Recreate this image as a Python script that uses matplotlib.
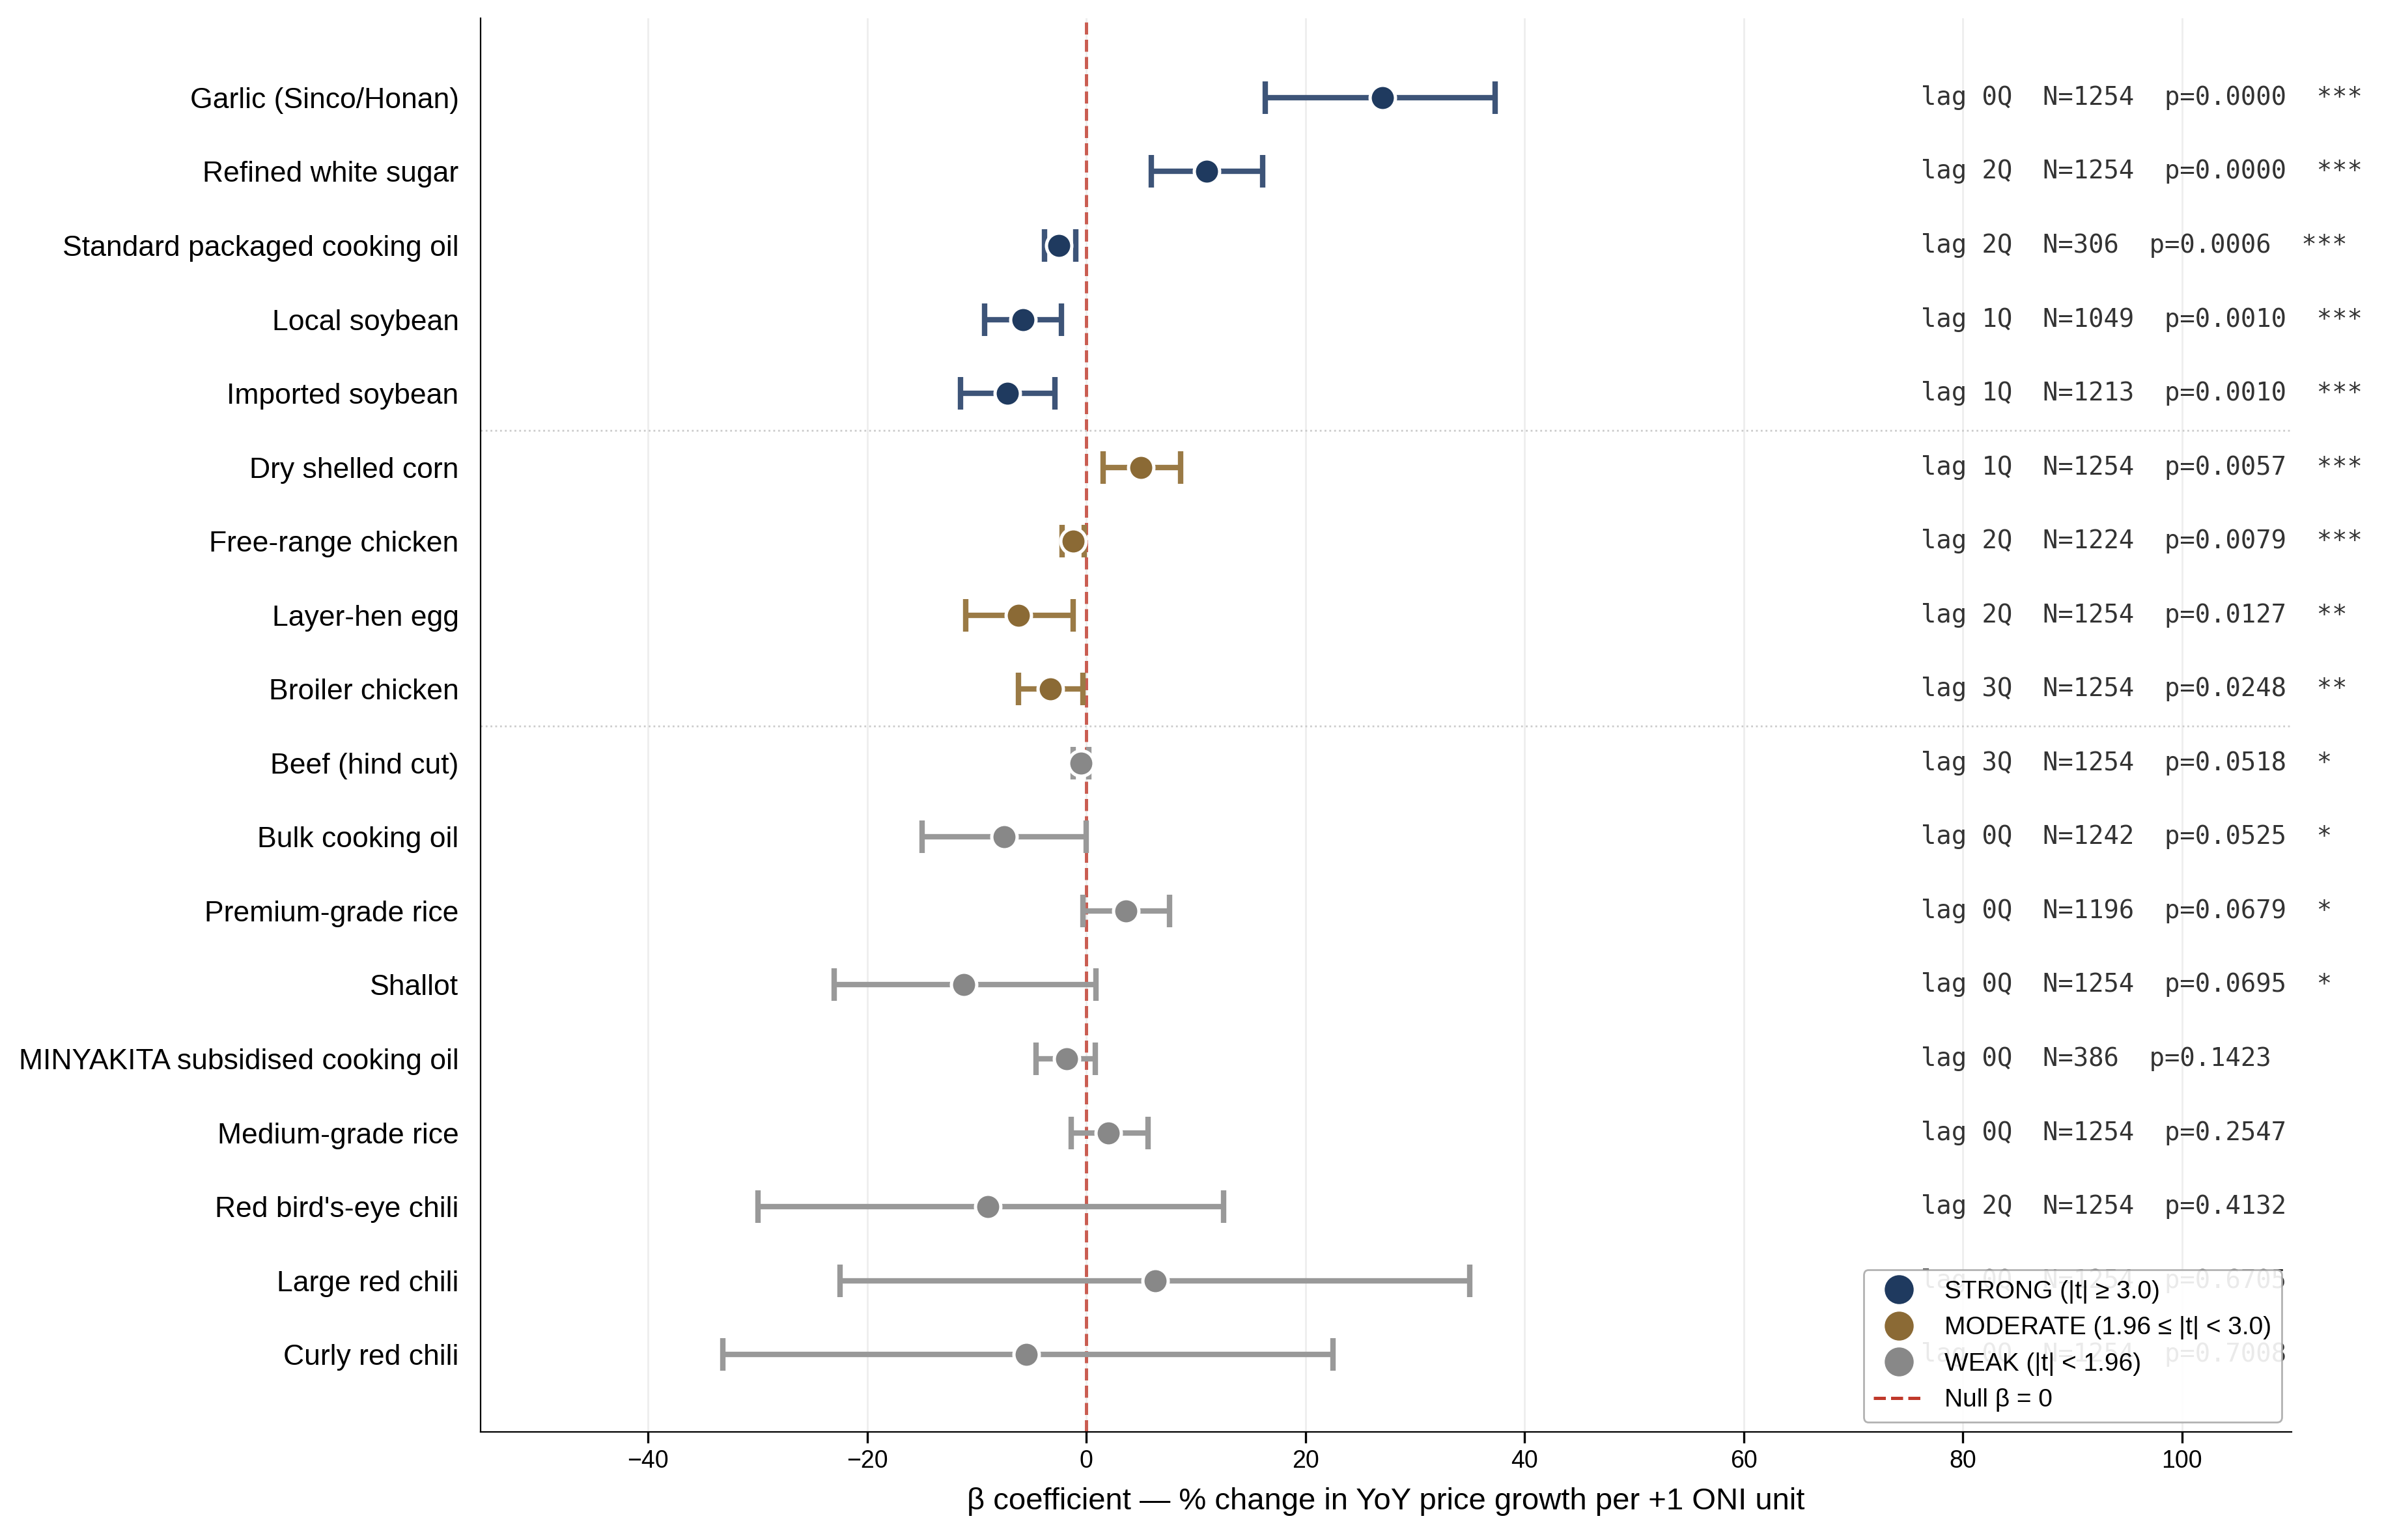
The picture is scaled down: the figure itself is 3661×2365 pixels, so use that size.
import matplotlib
matplotlib.use("Agg")
import matplotlib.pyplot as plt
from matplotlib.lines import Line2D

items = ["Garlic (Sinco/Honan)", "Refined white sugar", "Standard packaged cooking oil",
         "Local soybean", "Imported soybean", "Dry shelled corn", "Free-range chicken",
         "Layer-hen egg", "Broiler chicken", "Beef (hind cut)", "Bulk cooking oil",
         "Premium-grade rice", "Shallot", "MINYAKITA subsidised cooking oil",
         "Medium-grade rice", "Red bird's-eye chili", "Large red chili", "Curly red chili"]
beta = [27.0, 11.0, -2.5, -5.8, -7.2, 5.0, -1.2, -6.2, -3.3, -0.5, -7.5, 3.6, -11.2, -1.8, 2.0, -9.0, 6.3, -5.5]
ci_lo = [16.3, 5.9, -3.8, -9.3, -11.5, 1.5, -2.2, -11.0, -6.2, -1.2, -15.0, -0.3, -23.0, -4.6, -1.4, -30.0, -22.5, -33.2]
ci_hi = [37.3, 16.1, -1.0, -2.3, -2.9, 8.6, -0.2, -1.2, -0.3, 0.2, 0.0, 7.6, 0.9, 0.8, 5.6, 12.5, 35.0, 22.5]
tier = ["S"]*5 + ["M"]*4 + ["W"]*9
lags = ["0Q","2Q","2Q","1Q","1Q","1Q","2Q","2Q","3Q","3Q","0Q","0Q","0Q","0Q","0Q","2Q","0Q","0Q"]
ns = [1254,1254,306,1049,1213,1254,1224,1254,1254,1254,1242,1196,1254,386,1254,1254,1254,1254]
pvals = ["0.0000","0.0000","0.0006","0.0010","0.0010","0.0057","0.0079","0.0127","0.0248",
         "0.0518","0.0525","0.0679","0.0695","0.1423","0.2547","0.4132","0.6705","0.7008"]
stars = ["***"]*7 + ["**"]*2 + ["*"]*4 + [""]*5

mcol = {"S": "#1f3a5f", "M": "#8b6a35", "W": "#888888"}
ecol = {"S": "#3d5478", "M": "#9a7a45", "W": "#999999"}

plt.rcParams['font.family'] = ['Liberation Sans', 'DejaVu Sans']
fig = plt.figure(figsize=(18.31, 11.825), dpi=200)
ax = fig.add_axes([0.2015, 0.07, 0.7595, 0.918])

for i in range(len(items)):
    t = tier[i]
    ax.errorbar(beta[i], i, xerr=[[beta[i]-ci_lo[i]], [ci_hi[i]-beta[i]]], fmt='none',
                ecolor=ecol[t], elinewidth=3, capsize=9, capthick=3, zorder=2)
    ax.plot(beta[i], i, 'o', color=mcol[t], markersize=14, markeredgecolor='white',
            markeredgewidth=1.8, zorder=3)
    s = f"lag {lags[i]}  N={ns[i]}  p={pvals[i]}  {stars[i]}"
    ax.text(76.2, i, s, family='DejaVu Sans Mono', fontsize=14, color='#333333', va='center', zorder=1)

ax.axvline(0, color='#c0392b', ls='--', lw=1.8, alpha=0.8, zorder=1)
for y in (4.5, 8.5):
    ax.axhline(y, color='#cccccc', ls=':', lw=1)
ax.set_yticks(range(len(items)))
ax.set_yticklabels(items, fontsize=16)
ax.set_xlim(-55.3, 110)
ax.set_ylim(18.05, -1.07)
ax.set_xticks(range(-40, 101, 20))
ax.set_xticklabels(["\u221240", "\u221220", "0", "20", "40", "60", "80", "100"], fontsize=13.5)
ax.tick_params(axis='y', length=0, pad=12)
ax.tick_params(axis='x', length=6, width=1.2)
ax.grid(axis='x', color='#eeeeee', lw=1)
ax.set_axisbelow(True)
ax.spines['top'].set_visible(False)
ax.spines['right'].set_visible(False)
ax.set_xlabel("\u03b2 coefficient \u2014 % change in YoY price growth per +1 ONI unit", fontsize=17, labelpad=8)

handles = [Line2D([], [], marker='o', ls='', color=mcol["S"], markersize=15, label="STRONG (|t| \u2265 3.0)"),
           Line2D([], [], marker='o', ls='', color=mcol["M"], markersize=15, label="MODERATE (1.96 \u2264 |t| < 3.0)"),
           Line2D([], [], marker='o', ls='', color=mcol["W"], markersize=15, label="WEAK (|t| < 1.96)"),
           Line2D([], [], color='#c0392b', ls='--', lw=1.8, label="Null \u03b2 = 0")]
leg = ax.legend(handles=handles, loc='lower right', fontsize=14, framealpha=0.9, edgecolor='#aaaaaa',
                fancybox=True, borderaxespad=0.4)
leg.set_zorder(5)
fig.savefig("out.png", dpi=200)
